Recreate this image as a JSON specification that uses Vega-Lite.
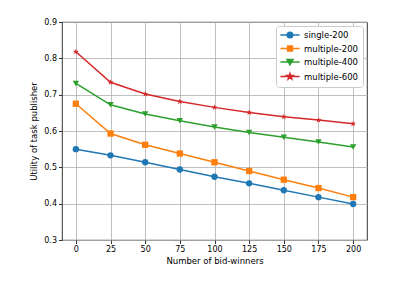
{
  "$schema": "https://vega.github.io/schema/vega-lite/v6.json",
  "width": 305,
  "height": 218,
  "autosize": {"type": "none"},
  "padding": {"left": 62, "top": 22, "right": 44, "bottom": 43},
  "background": "white",
  "config": {
    "font": "DejaVu Sans",
    "view": {"stroke": "black", "strokeWidth": 0.8},
    "axis": {
      "labelFont": "DejaVu Sans", "titleFont": "DejaVu Sans",
      "labelFontSize": 8, "titleFontSize": 8.5, "titleFontWeight": "normal",
      "labelColor": "black", "titleColor": "black",
      "domain": false, "tickColor": "black", "tickSize": 3.5, "tickWidth": 0.8,
      "gridColor": "#b0b0b0", "gridWidth": 0.8, "gridOpacity": 1
    }
  },
  "data": {"values": [
    {"series": "single-200", "x": 0, "y": 0.550},
    {"series": "single-200", "x": 25, "y": 0.533},
    {"series": "single-200", "x": 50, "y": 0.514},
    {"series": "single-200", "x": 75, "y": 0.494},
    {"series": "single-200", "x": 100, "y": 0.474},
    {"series": "single-200", "x": 125, "y": 0.456},
    {"series": "single-200", "x": 150, "y": 0.437},
    {"series": "single-200", "x": 175, "y": 0.418},
    {"series": "single-200", "x": 200, "y": 0.399},
    {"series": "multiple-200", "x": 0, "y": 0.675},
    {"series": "multiple-200", "x": 25, "y": 0.593},
    {"series": "multiple-200", "x": 50, "y": 0.562},
    {"series": "multiple-200", "x": 75, "y": 0.538},
    {"series": "multiple-200", "x": 100, "y": 0.514},
    {"series": "multiple-200", "x": 125, "y": 0.490},
    {"series": "multiple-200", "x": 150, "y": 0.466},
    {"series": "multiple-200", "x": 175, "y": 0.443},
    {"series": "multiple-200", "x": 200, "y": 0.418},
    {"series": "multiple-400", "x": 0, "y": 0.731},
    {"series": "multiple-400", "x": 25, "y": 0.672},
    {"series": "multiple-400", "x": 50, "y": 0.647},
    {"series": "multiple-400", "x": 75, "y": 0.628},
    {"series": "multiple-400", "x": 100, "y": 0.611},
    {"series": "multiple-400", "x": 125, "y": 0.596},
    {"series": "multiple-400", "x": 150, "y": 0.583},
    {"series": "multiple-400", "x": 175, "y": 0.570},
    {"series": "multiple-400", "x": 200, "y": 0.556},
    {"series": "multiple-600", "x": 0, "y": 0.818},
    {"series": "multiple-600", "x": 25, "y": 0.734},
    {"series": "multiple-600", "x": 50, "y": 0.702},
    {"series": "multiple-600", "x": 75, "y": 0.681},
    {"series": "multiple-600", "x": 100, "y": 0.665},
    {"series": "multiple-600", "x": 125, "y": 0.651},
    {"series": "multiple-600", "x": 150, "y": 0.639},
    {"series": "multiple-600", "x": 175, "y": 0.630},
    {"series": "multiple-600", "x": 200, "y": 0.620}
  ]},
  "encoding": {
    "x": {"field": "x", "type": "quantitative", "title": "Number of bid-winners",
      "scale": {"domain": [-10, 210], "nice": false, "zero": false},
      "axis": {"values": [0, 25, 50, 75, 100, 125, 150, 175, 200], "titlePadding": 3}},
    "y": {"field": "y", "type": "quantitative", "title": "Utility of task publisher",
      "scale": {"domain": [0.3, 0.9], "nice": false, "zero": false},
      "axis": {"values": [0.3, 0.4, 0.5, 0.6, 0.7, 0.8, 0.9], "format": ".1f", "titlePadding": 5}},
    "color": {
      "field": "series", "type": "nominal",
      "scale": {"domain": ["single-200", "multiple-200", "multiple-400", "multiple-600"],
        "range": ["#1f77b4", "#ff7f0e", "#2ca02c", "#d62728"]},
      "legend": {
        "title": null, "orient": "top-right", "offset": 4, "fillColor": "white",
        "strokeColor": "#cccccc", "padding": 4, "cornerRadius": 3, "labelFontSize": 8.5,
        "labelFont": "DejaVu Sans", "labelColor": "black", "rowPadding": 1.5, "symbolSize": 64,
        "symbolOffset": 5, "labelOffset": 9,
        "encode": {
          "symbols": {
            "update": {
              "fill": {"scale": "color", "field": "value"},
              "stroke": {"scale": "color", "field": "value"},
              "strokeWidth": {"value": 1.5},
              "opacity": {"value": 1},
              "shape": {"signal": "datum.value === 'single-200' ? 'M-2.4,0L2.4,0M0.7,0A0.7,0.7,0,1,1,-0.7,0A0.7,0.7,0,1,1,0.7,0Z' : datum.value === 'multiple-200' ? 'M-2.4,0L2.4,0M-0.6,-0.6L0.6,-0.6L0.6,0.6L-0.6,0.6Z' : datum.value === 'multiple-400' ? 'M-2.4,0L2.4,0M-0.75,-0.6L0.75,-0.6L0,0.7Z' : 'M-2.4,0L2.4,0M0,-0.78L0.175,-0.24L0.741,-0.24L0.283,0.092L0.458,0.631L0,0.298L-0.458,0.631L-0.283,0.092L-0.741,-0.24L-0.175,-0.24Z'"}
            }
          }
        }
      }
    }
  },
  "layer": [
    {"mark": {"type": "line", "strokeWidth": 1.5}},
    {"transform": [{"filter": "datum.series === 'single-200'"}],
      "mark": {"type": "point", "filled": true, "opacity": 1, "size": 40, "shape": "circle"}},
    {"transform": [{"filter": "datum.series === 'multiple-200'"}],
      "mark": {"type": "point", "filled": true, "opacity": 1, "size": 40, "shape": "square"}},
    {"transform": [{"filter": "datum.series === 'multiple-400'"}],
      "mark": {"type": "point", "filled": true, "opacity": 1, "size": 40, "shape": "triangle-down"}},
    {"transform": [{"filter": "datum.series === 'multiple-600'"}],
      "mark": {"type": "point", "filled": true, "opacity": 1, "size": 40, "shape": "M0,-1L0.2245,-0.309L0.9511,-0.309L0.3633,0.118L0.5878,0.809L0,0.382L-0.5878,0.809L-0.3633,0.118L-0.9511,-0.309L-0.2245,-0.309Z"}}
  ]
}
